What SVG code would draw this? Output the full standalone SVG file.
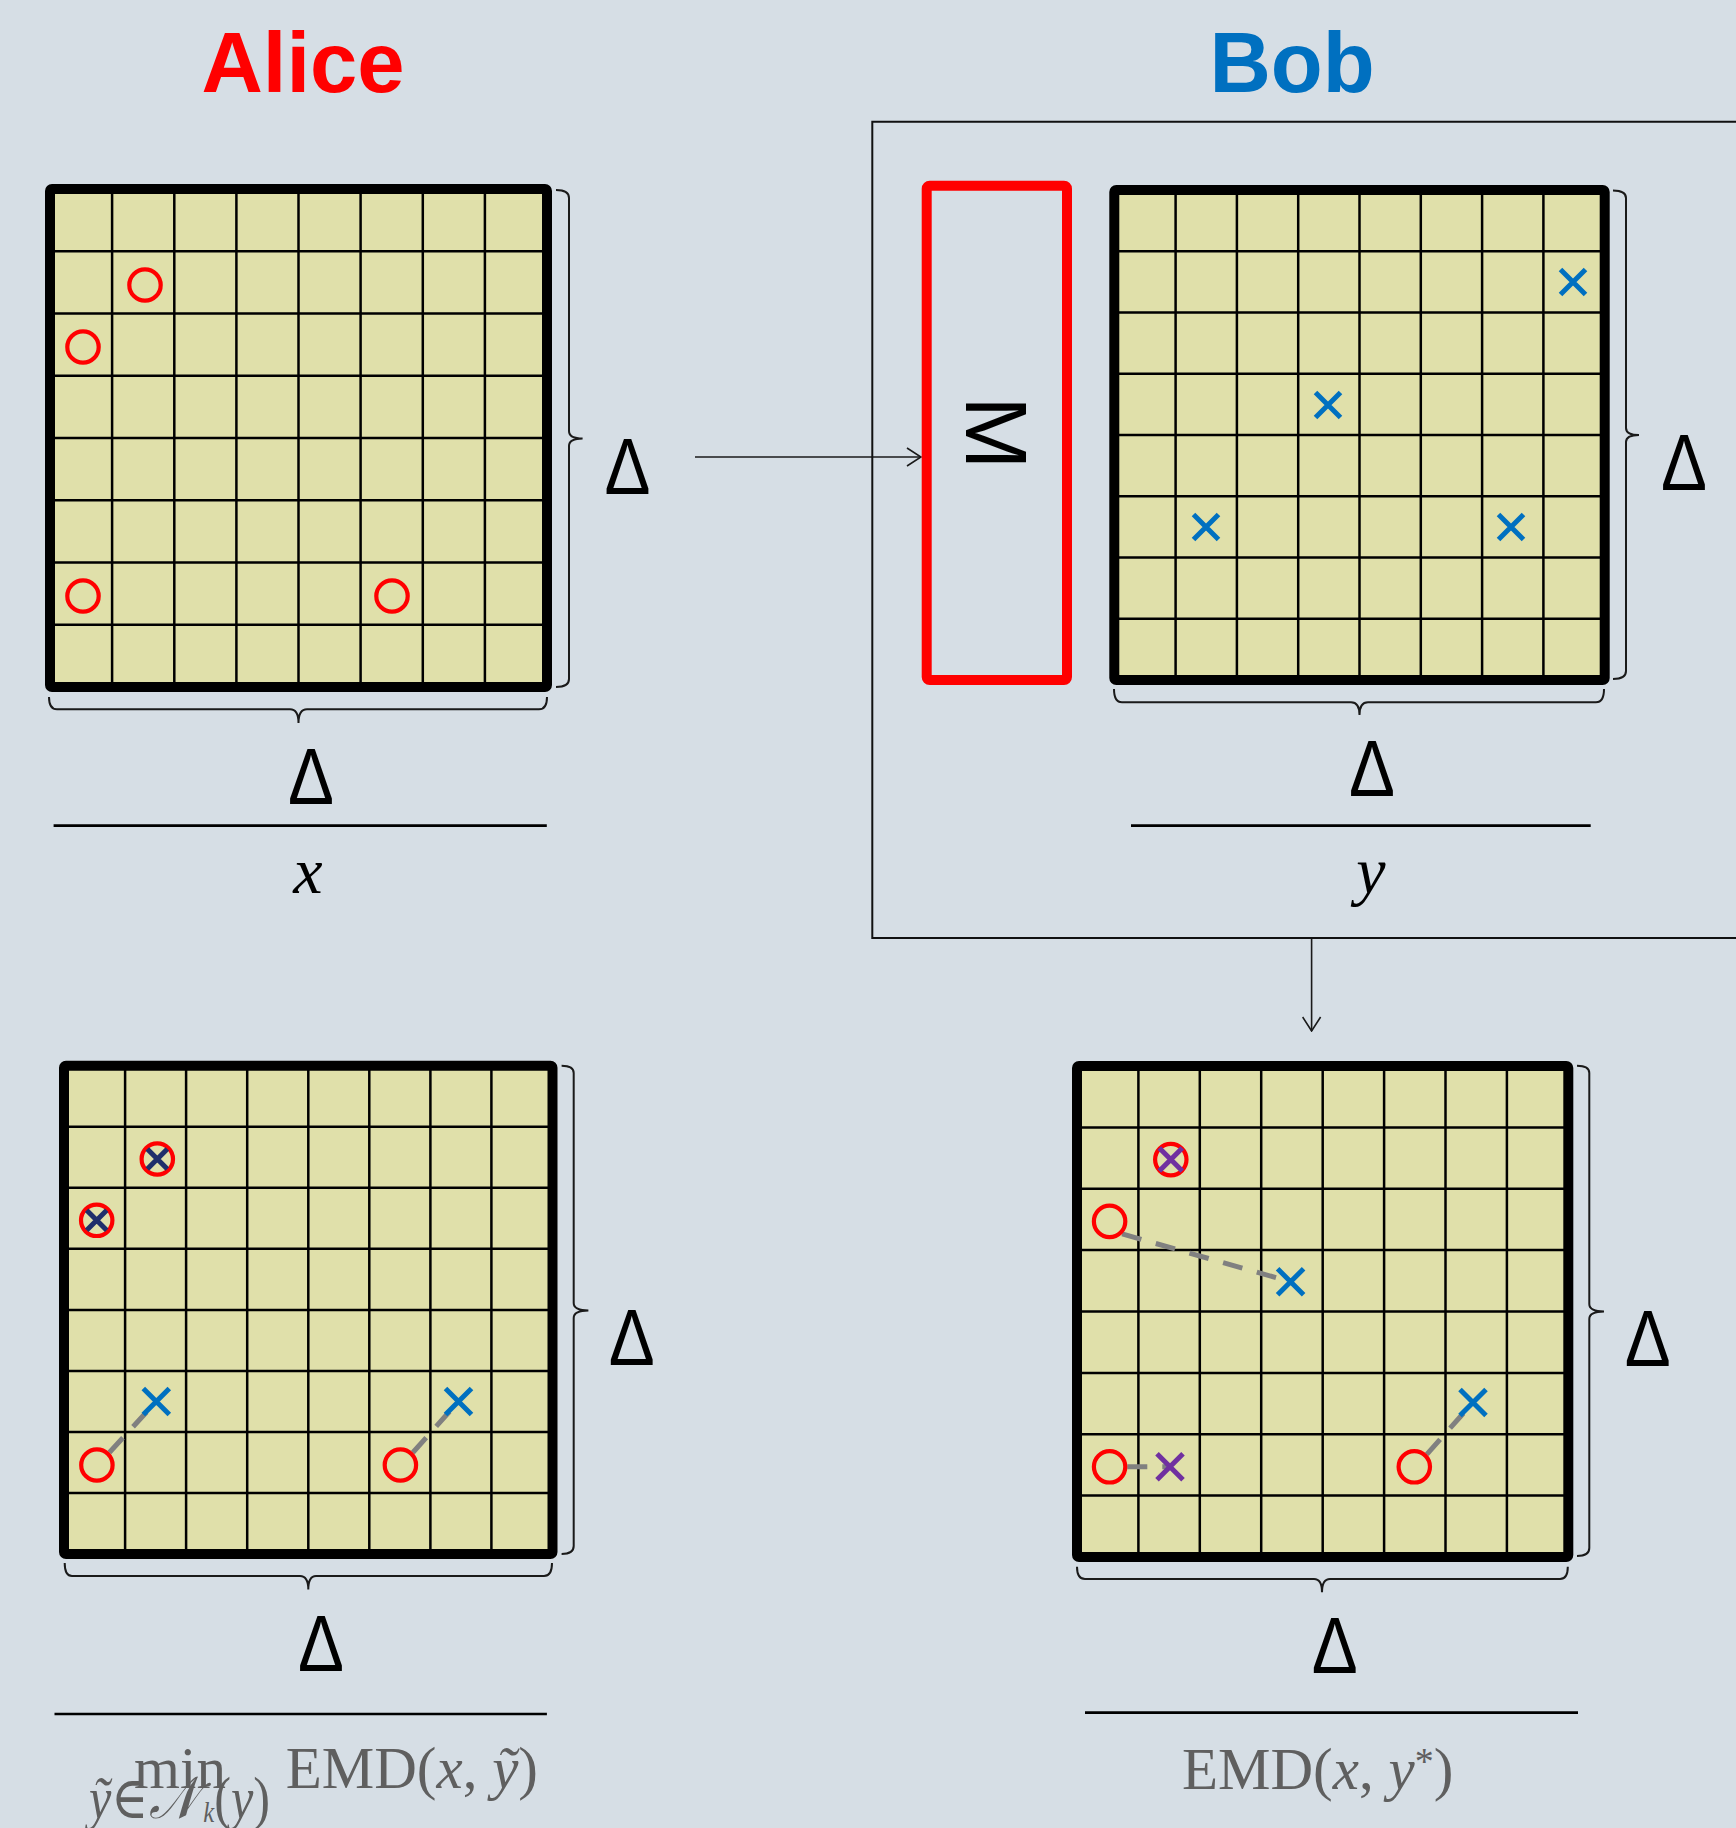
<svg xmlns="http://www.w3.org/2000/svg" width="1736" height="1828" viewBox="0 0 1736 1828">
<defs>
<style>
.bg{fill:#D6DEE5}
.cell{fill:#E0E0AA}
.gl{stroke:#000;stroke-width:2.5;fill:none}
.bd{stroke:#000;stroke-width:10;fill:none;stroke-linejoin:round}
.br{stroke:#1a1a1a;stroke-width:2;fill:none}
.bar{stroke:#000;stroke-width:2.7}
.ring{fill:none;stroke:#FF0000;stroke-width:4.2}
.xb{stroke:#0070C0;stroke-width:5;stroke-linecap:butt}
.xn{stroke:#1F2F6B;stroke-width:5}
.xp{stroke:#7030A0;stroke-width:5}
.dash{stroke:#808080;stroke-width:5;stroke-dasharray:20 15;fill:none}
.conn{stroke:#1a1a1a;stroke-width:1.6;fill:none}
.title{font-family:"Liberation Sans",Arial,sans-serif;font-weight:bold;font-size:85px;text-anchor:middle}
.delta{font-family:"Liberation Sans",Arial,sans-serif;font-size:80px;fill:#000;text-anchor:middle}
.var{font-family:"Liberation Serif","DejaVu Serif",serif;font-style:italic;font-size:66px;fill:#000;text-anchor:middle}
.math{font-family:"Liberation Serif","DejaVu Serif",serif;font-size:59px;fill:#5F5F5F}
.it{font-style:italic}
</style>
<marker id="arr" viewBox="0 0 16 20" refX="15" refY="10" markerWidth="16" markerHeight="20" markerUnits="userSpaceOnUse" orient="auto">
<path d="M1,1 L15,10 L1,19" fill="none" stroke="#1a1a1a" stroke-width="1.6"/>
</marker>
</defs>
<rect class="bg" x="0" y="0" width="1736" height="1828"/>

<text class="title" x="303" y="92" fill="#FF0000">Alice</text>
<text class="title" x="1292" y="92" fill="#0070C0">Bob</text>

<g id="connectors">
<line class="conn" x1="695" y1="457" x2="921" y2="457" marker-end="url(#arr)"/>
<line class="conn" x1="1311.6" y1="938" x2="1311.6" y2="1031" marker-end="url(#arr)"/>
</g>

<g id="bob-box">
<path d="M1740,121.7 L872.3,121.7 L872.3,938 L1740,938" fill="none" stroke="#111" stroke-width="2"/>
</g>

<g id="M-box">
<rect x="926.7" y="185.7" width="140.3" height="494.3" rx="3" fill="none" stroke="#FF0000" stroke-width="10"/>
<text x="997" y="464.5" transform="rotate(90 997 433)" font-family="Liberation Sans,Arial,sans-serif" font-size="88" text-anchor="middle" fill="#000">M</text>
</g>

<!-- Alice grid -->
<g id="grid-alice">
<rect class="cell" x="50" y="189" width="497" height="498"/>
<path class="gl" d="M112.1,189V687M174.3,189V687M236.4,189V687M298.5,189V687M360.6,189V687M422.8,189V687M484.9,189V687M50,251.3H547M50,313.5H547M50,375.8H547M50,438H547M50,500.3H547M50,562.5H547M50,624.8H547"/>
<rect class="bd" x="50" y="189" width="497" height="498" rx="2"/>
<circle class="ring" cx="145" cy="285" r="15.7"/>
<circle class="ring" cx="83" cy="347" r="15.7"/>
<circle class="ring" cx="83" cy="596" r="15.7"/>
<circle class="ring" cx="392" cy="596" r="15.7"/>
<path class="br" d="M556,190 Q569,190 569,198 L569,431 Q569,438.5 582.6,438.5 Q569,438.5 569,446 L569,679 Q569,687 556,687"/>
<path class="br" d="M49,697 Q49,709.3 57,709.3 L290,709.3 Q298.5,709.3 298.5,723 Q298.5,709.3 307,709.3 L539,709.3 Q547,709.3 547,697"/>
<text class="delta" x="627.5" y="494" textLength="46" lengthAdjust="spacingAndGlyphs">Δ</text>
<text class="delta" x="311" y="804" textLength="46" lengthAdjust="spacingAndGlyphs">Δ</text>
<line class="bar" x1="53.6" y1="825.7" x2="546.8" y2="825.7"/>
<text class="var" x="308" y="893">x</text>
</g>

<!-- Bob grid -->
<g id="grid-bob">
<rect class="cell" x="1114.3" y="190" width="490.4" height="490"/>
<path class="gl" d="M1175.6,190V680M1236.9,190V680M1298.2,190V680M1359.5,190V680M1420.8,190V680M1482.1,190V680M1543.4,190V680M1114.3,251.25H1604.7M1114.3,312.5H1604.7M1114.3,373.75H1604.7M1114.3,435H1604.7M1114.3,496.25H1604.7M1114.3,557.5H1604.7M1114.3,618.75H1604.7"/>
<rect class="bd" x="1114.3" y="190" width="490.4" height="490" rx="2"/>
<path class="xb" d="M1560.5,269.5L1585.5,294.5M1585.5,269.5L1560.5,294.5"/>
<path class="xb" d="M1315.5,392.5L1340.5,417.5M1340.5,392.5L1315.5,417.5"/>
<path class="xb" d="M1193.5,514.5L1218.5,539.5M1218.5,514.5L1193.5,539.5"/>
<path class="xb" d="M1498.5,514.5L1523.5,539.5M1523.5,514.5L1498.5,539.5"/>
<path class="br" d="M1613,190.4 Q1626,190.4 1626,198 L1626,428 Q1626,435 1639,435 Q1626,435 1626,442 L1626,671 Q1626,679 1613,679"/>
<path class="br" d="M1114,689 Q1114,702.3 1122,702.3 L1351,702.3 Q1359.5,702.3 1359.5,715 Q1359.5,702.3 1368,702.3 L1596,702.3 Q1604,702.3 1604,689"/>
<text class="delta" x="1684" y="490" textLength="46" lengthAdjust="spacingAndGlyphs">Δ</text>
<text class="delta" x="1372" y="796" textLength="46" lengthAdjust="spacingAndGlyphs">Δ</text>
<line class="bar" x1="1131" y1="825.7" x2="1590.7" y2="825.7"/>
<text class="var" x="1371" y="893">y</text>
</g>

<!-- Bottom-left grid -->
<g id="grid-min">
<rect class="cell" x="64" y="1065.7" width="488.5" height="488.3"/>
<path class="gl" d="M125.1,1065.7V1554M186.1,1065.7V1554M247.2,1065.7V1554M308.3,1065.7V1554M369.3,1065.7V1554M430.4,1065.7V1554M491.4,1065.7V1554M64,1126.7H552.5M64,1187.8H552.5M64,1248.8H552.5M64,1309.9H552.5M64,1370.9H552.5M64,1431.9H552.5M64,1493H552.5"/>
<rect class="bd" x="64" y="1065.7" width="488.5" height="488.3" rx="2"/>
<line class="dash" x1="109.4" y1="1452.5" x2="156.3" y2="1401.4"/>
<line class="dash" x1="412.9" y1="1452.5" x2="458.5" y2="1401.4"/>
<circle class="ring" cx="157.3" cy="1159" r="15.7"/>
<path class="xn" d="M147.3,1149L167.3,1169M167.3,1149L147.3,1169"/>
<circle class="ring" cx="96.7" cy="1220.3" r="15.7"/>
<path class="xn" d="M86.7,1210.3L106.7,1230.3M106.7,1210.3L86.7,1230.3"/>
<path class="xb" d="M143.3,1388.4L169.3,1414.4M169.3,1388.4L143.3,1414.4"/>
<path class="xb" d="M445.5,1388.4L471.5,1414.4M471.5,1388.4L445.5,1414.4"/>
<circle class="ring" cx="96.9" cy="1465" r="15.7"/>
<circle class="ring" cx="400.4" cy="1465" r="15.7"/>
<path class="br" d="M561.6,1065.7 Q573.7,1065.7 573.7,1073 L573.7,1303 Q573.7,1310.4 588.4,1310.4 Q573.7,1310.4 573.7,1318 L573.7,1546 Q573.7,1554 561.6,1554"/>
<path class="br" d="M64.7,1563 Q64.7,1576 72,1576 L300,1576 Q308.3,1576 308.3,1589.5 Q308.3,1576 316,1576 L544,1576 Q552,1576 552,1563"/>
<text class="delta" x="631.7" y="1365" textLength="46" lengthAdjust="spacingAndGlyphs">Δ</text>
<text class="delta" x="321" y="1670.7" textLength="46" lengthAdjust="spacingAndGlyphs">Δ</text>
<line class="bar" x1="54.5" y1="1714" x2="546.9" y2="1714"/>
<text class="math" x="180" y="1788" text-anchor="middle">min</text>
<text class="math" x="285.7" y="1788">EMD(<tspan class="it">x</tspan>, <tspan class="it">ỹ</tspan>)</text>
<text class="math" x="89" y="1818" font-size="33" textLength="181" lengthAdjust="spacingAndGlyphs"><tspan class="it">ỹ</tspan>∈<tspan class="it">𝒩</tspan><tspan class="it" font-size="29" dx="7" dy="4">k</tspan><tspan dy="-4">(</tspan><tspan class="it">y</tspan>)</text>
</g>

<!-- Bottom-right grid -->
<g id="grid-star">
<rect class="cell" x="1077" y="1066" width="491.3" height="491"/>
<path class="gl" d="M1138.4,1066V1557M1199.8,1066V1557M1261.2,1066V1557M1322.7,1066V1557M1384.1,1066V1557M1445.5,1066V1557M1506.9,1066V1557M1077,1127.4H1568.3M1077,1188.75H1568.3M1077,1250.1H1568.3M1077,1311.5H1568.3M1077,1372.9H1568.3M1077,1434.25H1568.3M1077,1495.6H1568.3"/>
<rect class="bd" x="1077" y="1066" width="491.3" height="491" rx="2"/>
<line class="dash" x1="1122.1" y1="1233.9" x2="1290.6" y2="1281.8"/>
<line class="dash" x1="1127.3" y1="1466.8" x2="1170" y2="1466.8"/>
<line class="dash" x1="1426.8" y1="1454.3" x2="1473" y2="1402.5"/>
<circle class="ring" cx="1170.8" cy="1159.6" r="15.7"/>
<path class="xp" d="M1159.3,1148.1L1182.3,1171.1M1182.3,1148.1L1159.3,1171.1"/>
<circle class="ring" cx="1109.6" cy="1221.4" r="15.7"/>
<path class="xb" d="M1277.6,1268.8L1303.6,1294.8M1303.6,1268.8L1277.6,1294.8"/>
<path class="xb" d="M1460,1389.5L1486,1415.5M1486,1389.5L1460,1415.5"/>
<circle class="ring" cx="1109.6" cy="1466.8" r="15.7"/>
<path class="xp" d="M1157,1453.7L1183,1479.7M1183,1453.7L1157,1479.7"/>
<circle class="ring" cx="1414.3" cy="1466.8" r="15.7"/>
<path class="br" d="M1577,1065.7 Q1589.3,1065.7 1589.3,1073 L1589.3,1304 Q1589.3,1311.4 1604,1311.4 Q1589.3,1311.4 1589.3,1319 L1589.3,1548 Q1589.3,1556 1577,1556"/>
<path class="br" d="M1077,1566.7 Q1077,1579 1085,1579 L1314,1579 Q1322,1579 1322,1592.3 Q1322,1579 1330,1579 L1560,1579 Q1567.8,1579 1567.8,1566.7"/>
<text class="delta" x="1647.7" y="1365.7" textLength="46" lengthAdjust="spacingAndGlyphs">Δ</text>
<text class="delta" x="1334.7" y="1673.3" textLength="46" lengthAdjust="spacingAndGlyphs">Δ</text>
<line class="bar" x1="1085" y1="1712.7" x2="1578" y2="1712.7"/>
<text class="math" x="1182" y="1789">EMD(<tspan class="it">x</tspan>, <tspan class="it">y</tspan><tspan font-size="38" dy="-15">*</tspan><tspan dy="15">)</tspan></text>
</g>
</svg>
